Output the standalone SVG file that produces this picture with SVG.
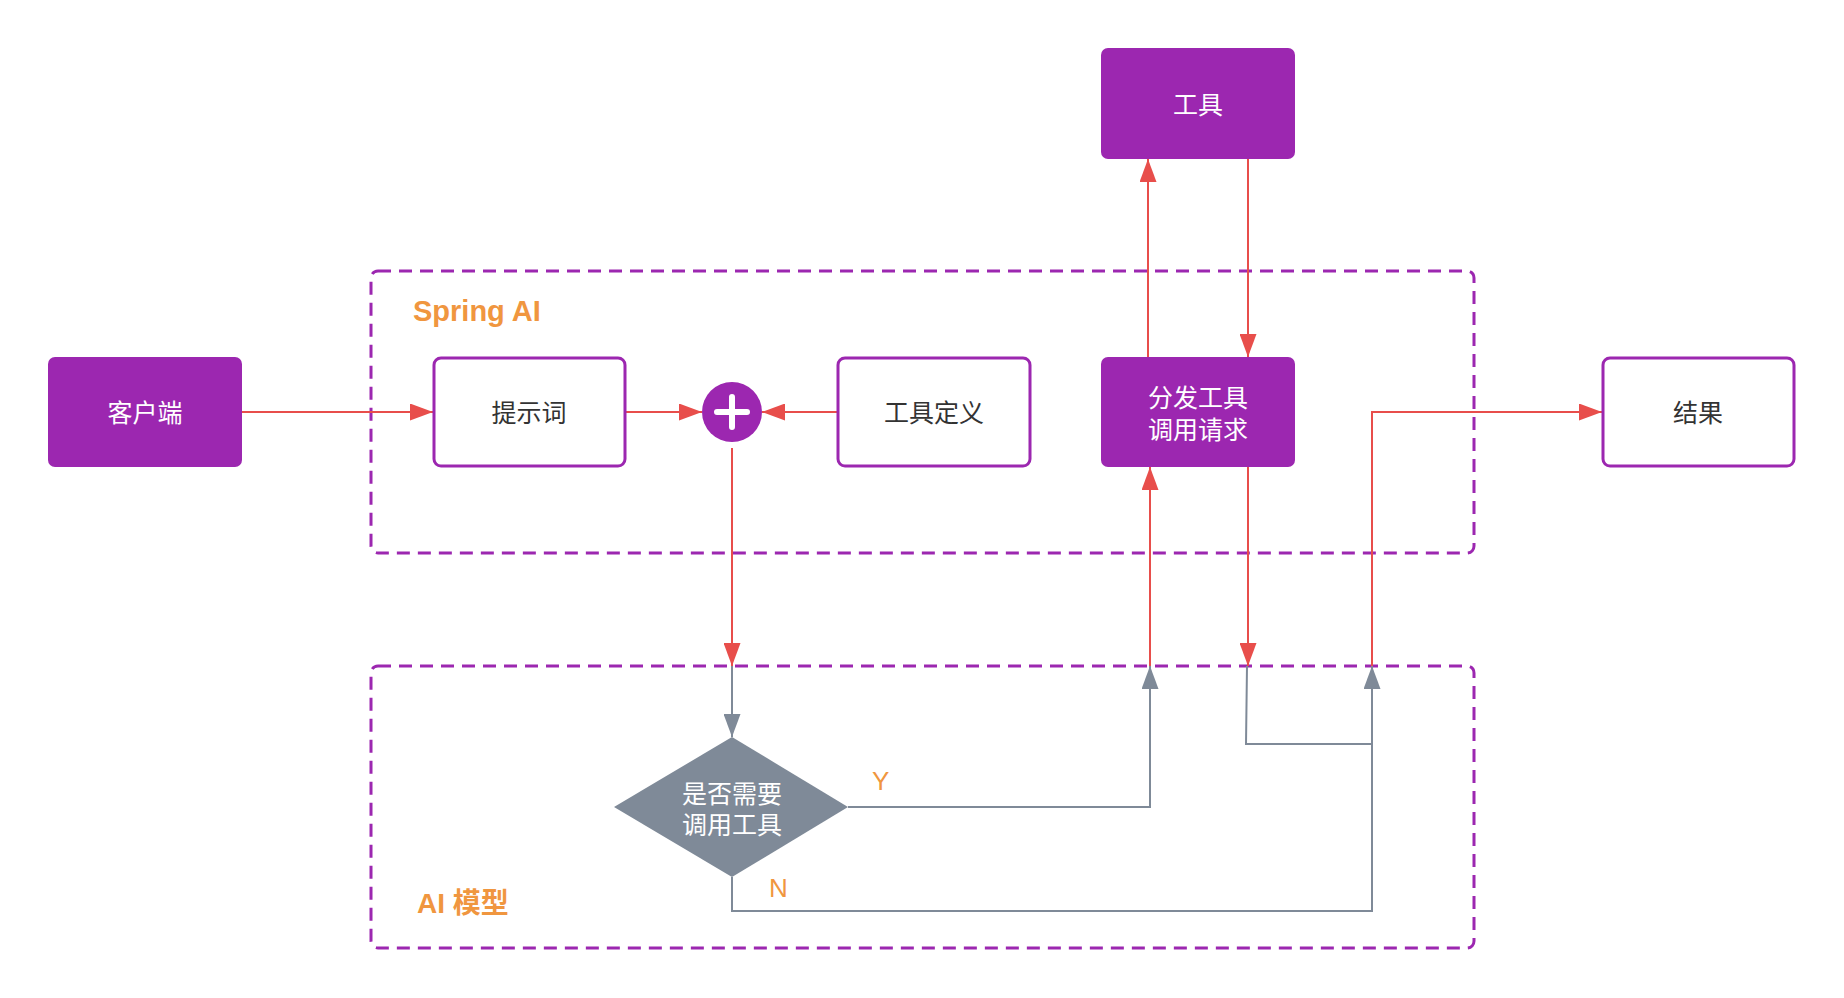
<svg xmlns="http://www.w3.org/2000/svg" width="1844" height="998" viewBox="0 0 1844 998">
<defs>
<style>
.solid{fill:#9C27B0;stroke:none}
.outline{fill:#fff;stroke:#9C27B0;stroke-width:3}
.ctr{fill:none;stroke:#9C27B0;stroke-width:3;stroke-dasharray:13 8}
.t{font-family:"Liberation Sans","Noto Sans CJK SC",sans-serif;font-size:25px;text-anchor:middle;dominant-baseline:central}
.tw{fill:#fff}
.td{fill:#333}
.lbl{font-family:"Liberation Sans","Noto Sans CJK SC",sans-serif;fill:#F0963F}
.red{fill:none;stroke:#E84E4B;stroke-width:2}
.gray{fill:none;stroke:#7F8A98;stroke-width:2}
</style>
<marker id="ar" markerWidth="23" markerHeight="17" refX="23" refY="8.5" orient="auto" markerUnits="userSpaceOnUse">
<path d="M0,0 L23,8.5 L0,17 Z" fill="#E84E4B"/>
</marker>
<marker id="ag" markerWidth="23" markerHeight="17" refX="23" refY="8.5" orient="auto" markerUnits="userSpaceOnUse">
<path d="M0,0 L23,8.5 L0,17 Z" fill="#7F8A98"/>
</marker>
</defs>
<rect width="1844" height="998" fill="#fff"/>

<g id="container-spring">
<rect class="ctr" x="371" y="271" width="1103" height="282" rx="7"/>
<text class="lbl" x="413" y="321" font-size="29" font-weight="bold">Spring AI</text>
</g>
<g id="container-model">
<rect class="ctr" x="371" y="666" width="1103" height="282" rx="7"/>
<text class="lbl" x="417" y="913" font-size="28" font-weight="bold">AI 模型</text>
</g>

<g id="connectors">
<path class="red" d="M242,412 H433" marker-end="url(#ar)"/>
<path class="red" d="M625,412 H702" marker-end="url(#ar)"/>
<path class="red" d="M837,412 H762" marker-end="url(#ar)"/>
<path class="red" d="M732,448 V666" marker-end="url(#ar)"/>
<path class="gray" d="M732,666 V737" marker-end="url(#ag)"/>
<path class="gray" d="M848,807 H1150 V666" marker-end="url(#ag)"/>
<path class="red" d="M1150,666 V467" marker-end="url(#ar)"/>
<path class="red" d="M1148,357 V159" marker-end="url(#ar)"/>
<path class="red" d="M1248,159 V357" marker-end="url(#ar)"/>
<path class="red" d="M1248,467 V666" marker-end="url(#ar)"/>
<path class="gray" d="M1247,666 L1246,744 H1372"/>
<path class="gray" d="M732,877 V911 H1372 V666" marker-end="url(#ag)"/>
<path class="red" d="M1372,666 V412 H1602" marker-end="url(#ar)"/>
<text class="lbl" x="872" y="790" font-size="26">Y</text>
<text class="lbl" x="769" y="897" font-size="26">N</text>
</g>

<g id="client">
<rect class="solid" x="48" y="357" width="194" height="110" rx="7"/>
<text class="t tw" x="145" y="413">客户端</text>
</g>
<g id="prompt">
<rect class="outline" x="434" y="358" width="191" height="108" rx="7"/>
<text class="t td" x="529" y="413">提示词</text>
</g>
<g id="plus">
<circle cx="732" cy="412" r="30" fill="#9C27B0"/>
<path d="M732,397 V427 M717,412 H747" stroke="#fff" stroke-width="6" stroke-linecap="round"/>
</g>
<g id="tooldef">
<rect class="outline" x="838" y="358" width="192" height="108" rx="7"/>
<text class="t td" x="934" y="413">工具定义</text>
</g>
<g id="dispatch">
<rect class="solid" x="1101" y="357" width="194" height="110" rx="7"/>
<text class="t tw" x="1198" y="398">分发工具</text>
<text class="t tw" x="1198" y="430">调用请求</text>
</g>
<g id="tool">
<rect class="solid" x="1101" y="48" width="194" height="111" rx="7"/>
<text class="t tw" x="1198" y="105">工具</text>
</g>
<g id="result">
<rect class="outline" x="1603" y="358" width="191" height="108" rx="7"/>
<text class="t td" x="1698" y="413">结果</text>
</g>
<g id="decision">
<path d="M732,737 L848,807 L732,877 L614,807 Z" fill="#7F8A98"/>
<text class="t tw" x="732" y="794">是否需要</text>
<text class="t tw" x="732" y="825">调用工具</text>
</g>
</svg>
